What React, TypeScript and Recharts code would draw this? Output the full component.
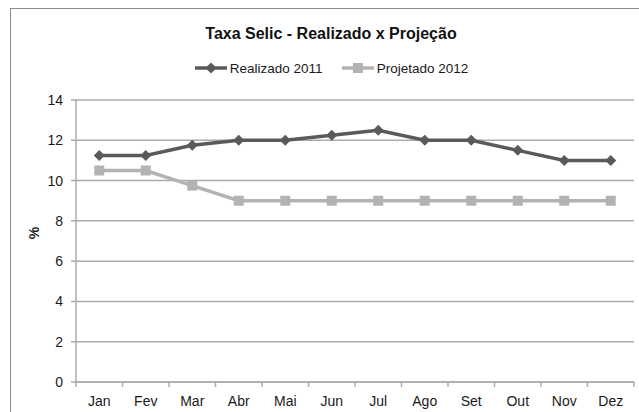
import { LineChart, Line, XAxis, YAxis, CartesianGrid } from 'recharts';

// Selic: realised in 2011 vs. projection for 2012
const MONTHS = ['Jan', 'Fev', 'Mar', 'Abr', 'Mai', 'Jun', 'Jul', 'Ago', 'Set', 'Out', 'Nov', 'Dez'];
const REALIZADO_2011 = [11.25, 11.25, 11.75, 12, 12, 12.25, 12.5, 12, 12, 11.5, 11, 11];
const PROJETADO_2012 = [10.5, 10.5, 9.75, 9, 9, 9, 9, 9, 9, 9, 9, 9];
const Y_TICKS = [0, 2, 4, 6, 8, 10, 12, 14];

const TITLE = 'Taxa Selic - Realizado x Projeção';
const FONT = "'Liberation Sans Narrow', 'Arial Narrow', 'Liberation Sans', Arial, sans-serif";

const DARK = '#5a5a5a';
const LIGHT = '#b3b3b3';
const GRID = '#ababab';

const W = 639;
const H = 412;
const HALF_BAND = 23.25; // half the width of one month slot
const TICK_SIZE = 5;
const TICK_MARGIN = 9;

const data = MONTHS.map((mes, i) => ({
  mes,
  realizado: REALIZADO_2011[i],
  projetado: PROJETADO_2012[i],
}));

const SERIES = [
  { key: 'realizado', name: 'Realizado 2011', color: DARK, marker: 'diamond' },
  { key: 'projetado', name: 'Projetado 2012', color: LIGHT, marker: 'square' },
];

function Marker({ cx, cy, color, kind }: { cx: number; cy: number; color: string; kind: string }) {
  if (kind === 'diamond') {
    const r = 5.5;
    return <polygon points={`${cx},${cy - r} ${cx + r},${cy} ${cx},${cy + r} ${cx - r},${cy}`} fill={color} />;
  }
  return <rect x={cx - 5} y={cy - 5} width={10} height={10} fill={color} />;
}

function dotFor(color: string, kind: string) {
  return (p: any) => {
    if (p.cx == null || p.cy == null) return <g key={p.index} />;
    return <Marker key={p.index} cx={p.cx} cy={p.cy} color={color} kind={kind} />;
  };
}

// month label at the slot centre, Excel-style tick marks on the slot edges
function MonthTick(props: any) {
  const { x, y, payload, index } = props;
  const axisY = y - TICK_SIZE - TICK_MARGIN;
  const last = index === MONTHS.length - 1;
  return (
    <g>
      <line x1={x - HALF_BAND} x2={x - HALF_BAND} y1={axisY} y2={axisY + TICK_SIZE} stroke={GRID} strokeWidth={1.5} />
      {last && (
        <line x1={x + HALF_BAND} x2={x + HALF_BAND} y1={axisY} y2={axisY + TICK_SIZE} stroke={GRID} strokeWidth={1.5} />
      )}
      <text x={x} y={y} dy="0.71em" textAnchor="middle" fill="#1a1a1a" fontSize={14} fontFamily={FONT}>
        {payload.value}
      </text>
    </g>
  );
}

function ChartLegend() {
  return (
    <div
      style={{
        position: 'absolute', top: 59, left: 11, width: 640,
        display: 'flex', justifyContent: 'center', gap: 18,
        fontFamily: FONT, fontSize: 13.5, color: '#1a1a1a',
      }}
    >
      {SERIES.map((s) => (
        <div key={s.key} style={{ display: 'flex', alignItems: 'center' }}>
          <svg width={34} height={18}>
            <line x1={1} x2={33} y1={9} y2={9} stroke={s.color} strokeWidth={3.5} />
            <Marker cx={17} cy={9} color={s.color} kind={s.marker} />
          </svg>
          <span style={{ marginLeft: 2 }}>{s.name}</span>
        </div>
      ))}
    </div>
  );
}

export default function App() {
  return (
    <div style={{ position: 'fixed', left: 0, top: 0, width: W, height: H, overflow: 'hidden', background: '#fff' }}>
      <div
        style={{
          position: 'absolute', left: 10, top: 8, width: 650, height: 420,
          border: '1.5px solid #8c8c8c', boxSizing: 'border-box',
        }}
      />
      <div
        style={{
          position: 'absolute', top: 25, left: 11, width: 640, textAlign: 'center',
          fontFamily: FONT, fontSize: 16, fontWeight: 'bold', color: '#111',
        }}
      >
        {TITLE}
      </div>
      <ChartLegend />
      <div style={{ position: 'absolute', left: 0, top: 0 }}>
        <LineChart width={W} height={H} data={data} margin={{ top: 100, right: 5, left: 0, bottom: 0 }}>
          <CartesianGrid vertical={false} stroke={GRID} strokeWidth={1.5} />
          <XAxis
            dataKey="mes"
            scale="point"
            padding={{ left: HALF_BAND, right: HALF_BAND }}
            height={30}
            tickSize={TICK_SIZE}
            tickMargin={TICK_MARGIN}
            tickLine={false}
            axisLine={{ stroke: GRID, strokeWidth: 1.5 }}
            tick={<MonthTick />}
            interval={0}
          />
          <YAxis
            width={76}
            domain={[0, 14]}
            ticks={Y_TICKS}
            tickSize={TICK_SIZE}
            tickMargin={8}
            axisLine={{ stroke: GRID, strokeWidth: 1.5 }}
            tickLine={{ stroke: GRID, strokeWidth: 1.5 }}
            tick={{ fill: '#1a1a1a', fontSize: 14, fontFamily: FONT }}
            label={{
              value: '%', angle: -90, position: 'insideLeft', offset: 34, dy: -8,
              style: { fontFamily: FONT, fontSize: 14, fontWeight: 'bold', fill: '#1a1a1a', textAnchor: 'middle' },
            }}
          />
          {SERIES.map((s) => (
            <Line
              key={s.key}
              type="linear"
              dataKey={s.key}
              name={s.name}
              stroke={s.color}
              strokeWidth={3.5}
              dot={dotFor(s.color, s.marker)}
              activeDot={false}
              isAnimationActive={false}
            />
          ))}
        </LineChart>
      </div>
    </div>
  );
}
